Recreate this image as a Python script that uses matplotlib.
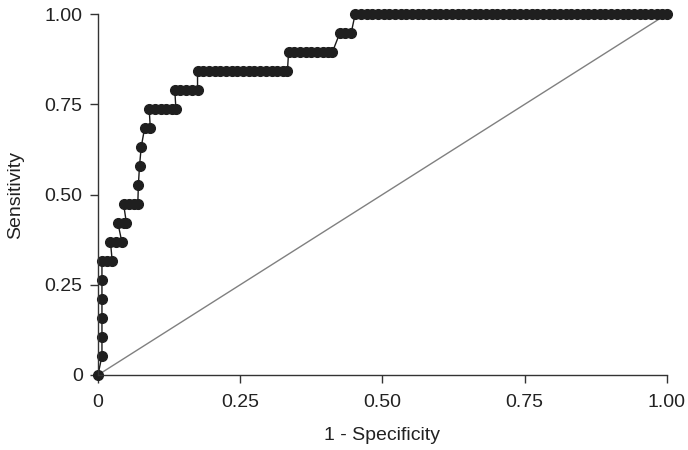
import matplotlib
matplotlib.use("Agg")
import matplotlib.pyplot as plt

plt.rcParams['font.family'] = ['Liberation Sans', 'DejaVu Sans']

# ROC points: one list of false positive rates per sensitivity level (k / 19)
n_pos = 19
fpr_levels = [
    [0.0],
    [0.007],
    [0.007],
    [0.007],
    [0.007],
    [0.007],
    [0.007, 0.016, 0.025],
    [0.022, 0.032, 0.042],
    [0.035, 0.045, 0.05],
    [0.045, 0.055, 0.063, 0.07],
    [0.071],
    [0.073],
    [0.076],
    [0.082, 0.092],
    [0.09, 0.1, 0.11, 0.12, 0.13, 0.137],
    [0.135, 0.145, 0.155, 0.165, 0.175],
    [0.175, 0.185, 0.195, 0.205, 0.215, 0.225, 0.235, 0.245, 0.255, 0.265,
     0.275, 0.285, 0.295, 0.305, 0.315, 0.325, 0.333],
    [0.335, 0.345, 0.355, 0.365, 0.375, 0.385, 0.395, 0.405, 0.412],
    [0.425, 0.435, 0.445],
    [0.452, 0.462, 0.472, 0.482, 0.492, 0.502, 0.512, 0.522, 0.532, 0.542,
     0.552, 0.562, 0.572, 0.582, 0.592, 0.602, 0.612, 0.622, 0.632, 0.642,
     0.652, 0.662, 0.672, 0.682, 0.692, 0.702, 0.712, 0.722, 0.732, 0.742,
     0.752, 0.762, 0.772, 0.782, 0.792, 0.802, 0.812, 0.822, 0.832, 0.842,
     0.852, 0.862, 0.872, 0.882, 0.892, 0.902, 0.912, 0.922, 0.932, 0.942,
     0.952, 0.962, 0.972, 0.982, 0.992, 1.0],
]

tick_vals = [0, 0.25, 0.5, 0.75, 1.0]
tick_labels = ["0", "0.25", "0.50", "0.75", "1.00"]

fpr = []
tpr = []
for k, xs in enumerate(fpr_levels):
    for x in xs:
        fpr.append(x)
        tpr.append(k / n_pos)

fig = plt.figure(figsize=(6.88, 4.5), dpi=100)
ax = fig.add_axes([0.1424, 0.1667, 0.827, 0.802])

ax.plot([0, 1], [0, 1], color="#808080", linewidth=1.0, zorder=1, clip_on=False)
ax.plot(fpr, tpr, color="#1a1a1a", linewidth=1.0, marker="o", markersize=7,
        markerfacecolor="#1f1f1f", markeredgecolor="#1f1f1f", zorder=2, clip_on=False)

ax.set_xlim(0, 1)
ax.set_ylim(0, 1)
ax.set_xticks(tick_vals)
ax.set_xticklabels(tick_labels)
ax.set_yticks(tick_vals)
ax.set_yticklabels(tick_labels)

for s in ["top", "right"]:
    ax.spines[s].set_visible(False)
for s in ["left", "bottom"]:
    ax.spines[s].set_color("#333333")
    ax.spines[s].set_linewidth(1.0)

ax.tick_params(axis="both", direction="out", length=6, width=1.0, colors="#333333",
               labelsize=14, labelcolor="#222222")
ax.tick_params(axis="x", pad=8)
ax.tick_params(axis="y", pad=5)

ax.set_xlabel("1 - Specificity", fontsize=14, color="#222222", labelpad=11)
ax.set_ylabel("Sensitivity", fontsize=14, color="#222222", labelpad=15)

fig.savefig("out.png", dpi=100)
